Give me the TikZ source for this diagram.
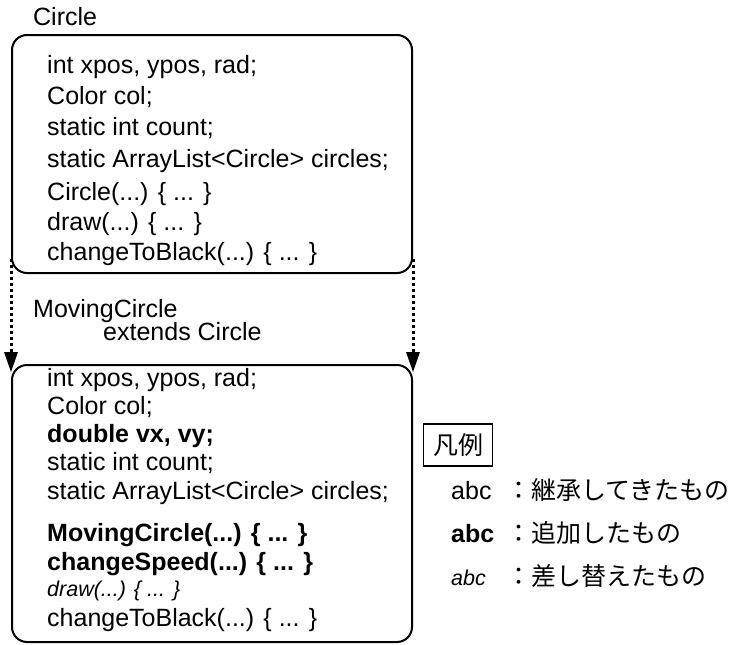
\documentclass[tikz,border=0pt]{standalone}
\usepackage{fontspec}
\setmainfont{Liberation Sans}
\newfontfamily\jp{Noto Sans CJK JP}
\usetikzlibrary{arrows.meta}
\begin{document}
\begin{tikzpicture}[x=1pt,y=-1pt,
  cls/.style={draw,line width=2pt,rounded corners=15pt,inner sep=0pt,minimum width=400pt},
  ln/.style={anchor=base west,inner sep=0pt,font=\fontsize{25}{30}\selectfont},
  lnb/.style={ln,font=\fontsize{25}{30}\selectfont\bfseries},
  lni/.style={ln,font=\fontsize{21.5}{26}\selectfont\itshape},
  jpl/.style={anchor=base west,inner sep=0pt,font=\fontsize{25}{30}\selectfont\jp},
  inh/.style={line width=3pt,dash pattern=on 3pt off 3pt,-{Triangle[length=20pt,width=14pt,line width=0pt]}}
]
\useasboundingbox (0,0) rectangle (734,645);
% class boxes
\node[cls,minimum height=238pt] (top) at (212,154) {};
\node[cls,minimum height=277pt] (bot) at (212,503.5) {};
% titles
\node[ln] (tname) at (33,25) {Circle};
\node[ln] (bname) at (33,317) {MovingCircle};
\node[ln] (bext) at (103,340) {extends Circle};
% top box members
\node[ln] (t1) at (47,73) {int xpos, ypos, rad;};
\node[ln] (t2) at (47,104) {Color col;};
\node[ln] (t3) at (47,135) {static int count;};
\node[ln] (t4) at (47,167) {static ArrayList<Circle> circles;};
\node[ln] (t5) at (47,200) {Circle(...) \{ ... \}};
\node[ln] (t6) at (47,230) {draw(...) \{ ... \}};
\node[ln] (t7) at (47,260) {changeToBlack(...) \{ ... \}};
% bottom box members
\node[ln] (b1) at (47,386) {int xpos, ypos, rad;};
\node[ln] (b2) at (47,414) {Color col;};
\node[lnb] (b3) at (47,442) {double vx, vy;};
\node[ln] (b4) at (47,470) {static int count;};
\node[ln] (b5) at (47,499) {static ArrayList<Circle> circles;};
\node[lnb] (b6) at (47,541) {MovingCircle(...) \{ ... \}};
\node[lnb] (b7) at (47,570) {changeSpeed(...) \{ ... \}};
\node[lni] (b8) at (47,596) {draw(...) \{ ... \}};
\node[ln] (b9) at (47,626) {changeToBlack(...) \{ ... \}};
% inheritance arrows
\draw[inh] ([yshift=15pt]top.south west) -- ([yshift=-8pt]bot.north west);
\draw[inh] ([yshift=15pt]top.south east) -- ([yshift=-8pt]bot.north east);
% legend
\node[draw,line width=1.5pt,inner sep=0pt,minimum width=69pt,minimum height=42pt,font=\fontsize{25}{30}\selectfont\jp] (leg) at (458,445) {凡例};
\node[ln] (l1) at (451,499) {abc};
\node[lnb] (l2) at (451,542) {abc};
\node[lni] (l3) at (451,585) {abc};
\node[jpl] (j1) at (506,499) {：継承してきたもの};
\node[jpl] (j2) at (506,542) {：追加したもの};
\node[jpl] (j3) at (506,585) {：差し替えたもの};
\end{tikzpicture}
\end{document}
